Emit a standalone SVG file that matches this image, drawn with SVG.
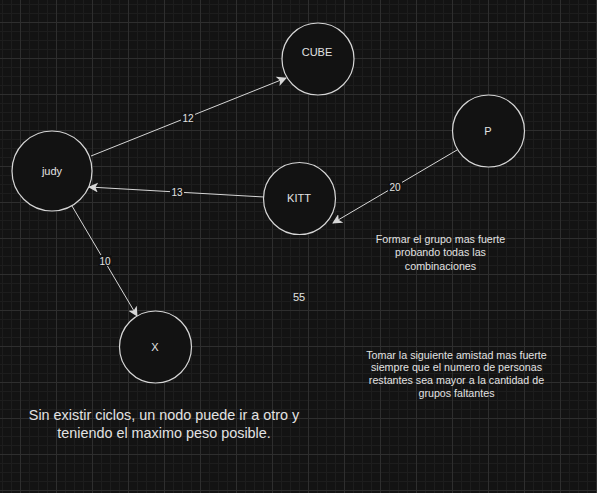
<svg xmlns="http://www.w3.org/2000/svg" width="597" height="493" viewBox="0 0 597 493">
<defs>
<pattern id="minor" x="20" y="22" width="9" height="9" patternUnits="userSpaceOnUse">
<path d="M0.5 0V9M0 0.5H9" stroke="#1d1d1d" stroke-width="1" fill="none"/>
</pattern>
<pattern id="major" x="20" y="22" width="36" height="36" patternUnits="userSpaceOnUse">
<path d="M0.5 0V36M0 0.5H36" stroke="#2e2e2e" stroke-width="1" fill="none"/>
</pattern>
<marker id="arr" viewBox="0 0 10 10" refX="9" refY="5" markerWidth="10" markerHeight="10" markerUnits="userSpaceOnUse" orient="auto">
<path d="M0 0L10 5L0 10L2.5 5Z" fill="#d6d6d6"/>
</marker>
</defs>
<style>
.node circle{fill:#121212;stroke:#d6d6d6;stroke-width:1.2}
text{font-family:"Liberation Sans",Arial,sans-serif;fill:#e2e2e2;text-anchor:middle}
.nt{font-size:11px}
.bt{font-size:10.7px}
.el{font-size:10px}
.edge{stroke:#d6d6d6;stroke-width:1;fill:none;marker-end:url(#arr)}
.lb{fill:#121212}
</style>
<rect width="597" height="493" fill="#131313"/>
<rect width="597" height="493" fill="url(#minor)"/>
<rect width="597" height="493" fill="url(#major)"/>
<g id="connectors">
<line class="edge" x1="91" y1="156" x2="286" y2="78"/>
<rect class="lb" x="181" y="112" width="14" height="11"/>
<text class="el" x="188" y="121.5">12</text>
<line class="edge" x1="264" y1="197" x2="89" y2="187"/>
<rect class="lb" x="170" y="186" width="14" height="11"/>
<text class="el" x="177" y="195.5">13</text>
<line class="edge" x1="457" y1="150" x2="333" y2="223"/>
<rect class="lb" x="388" y="181" width="14" height="11"/>
<text class="el" x="395" y="190.5">20</text>
<line class="edge" x1="72" y1="206" x2="137" y2="316"/>
<rect class="lb" x="98" y="255" width="14" height="11"/>
<text class="el" x="105" y="264.5">10</text>
</g>
<g id="judy" class="node"><circle cx="52" cy="171" r="40"/><text class="nt" x="52" y="175">judy</text></g>
<g id="cube" class="node"><circle cx="318" cy="59" r="36"/><text class="nt" x="317" y="56">CUBE</text></g>
<g id="p" class="node"><circle cx="488.5" cy="131" r="36"/><text class="nt" x="488" y="135">P</text></g>
<g id="kitt" class="node"><circle cx="299.5" cy="198.5" r="36"/><text class="nt" x="299" y="202">KITT</text></g>
<g id="x" class="node"><circle cx="155.5" cy="347" r="36"/><text class="nt" x="155" y="351">X</text></g>
<text class="bt" x="440.5" y="243">Formar el grupo mas fuerte</text>
<text class="bt" x="440.5" y="256">probando todas las</text>
<text class="bt" x="440.5" y="270">combinaciones</text>
<text class="nt" x="299" y="301">55</text>
<text class="bt" x="456.5" y="359">Tomar la siguiente amistad mas fuerte</text>
<text class="bt" x="456.5" y="371">siempre que el numero de personas</text>
<text class="bt" x="456.5" y="384">restantes sea mayor a la cantidad de</text>
<text class="bt" x="456.5" y="397">grupos faltantes</text>
<text x="164" y="420" style="font-size:14.4px">Sin existir ciclos, un nodo puede ir a otro y</text>
<text x="164" y="438" style="font-size:14.4px">teniendo el maximo peso posible.</text>
</svg>
